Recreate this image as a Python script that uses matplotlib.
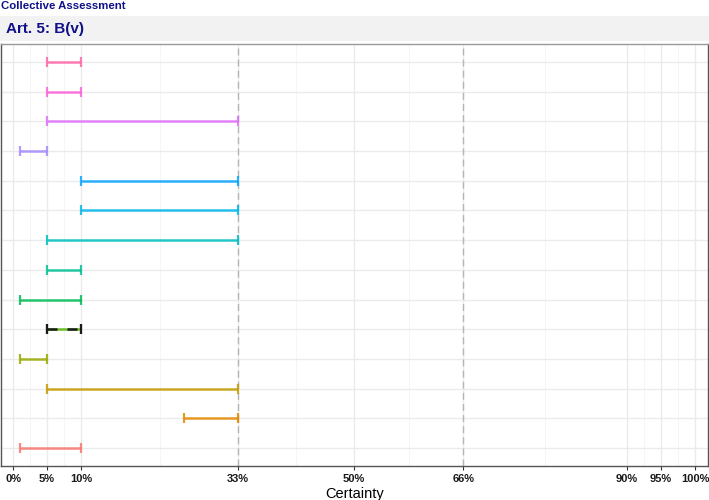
import matplotlib
matplotlib.use("Agg")
import matplotlib.pyplot as plt
from matplotlib.patches import Rectangle

plt.rcParams['font.family'] = ['Liberation Sans', 'DejaVu Sans']

# rows from bottom to top
lows = [1, 25, 5, 1, 5, 1, 5, 5, 10, 10, 1, 5, 5, 5]
highs = [10, 33, 33, 5, 10, 10, 10, 33, 33, 33, 5, 33, 10, 10]
colors = ['#F8766D', '#E38900', '#C49A00', '#99A800', '#53B400', '#00BC56',
          '#00C094', '#00BFC4', '#00B6EB', '#06A4FF', '#A58AFF', '#DF70F8',
          '#FB61D7', '#FF66A8']
collective_row = 5  # row drawn with the black dashed overlay

breaks = [0, 5, 10, 33, 50, 66, 90, 95, 100]
break_labels = ['0%', '5%', '10%', '33%', '50%', '66%', '90%', '95%', '100%']
ref_lines = [33, 66]

W, H = 709, 500
fig = plt.figure(figsize=(W / 100, H / 100), dpi=100)

# title and facet strip
fig.text(1 / W, 1 - 6 / H, 'Collective Assessment', color='#10108a',
         fontsize=8.2, fontweight='bold', ha='left', va='center')
fig.patches.append(Rectangle((0, 1 - 41 / H), 1, 25 / H, transform=fig.transFigure,
                             facecolor='#F2F2F2', edgecolor='none', zorder=0))
fig.text(6 / W, 1 - 28.5 / H, 'Art. 5: B(v)', color='#10108a',
         fontsize=11, fontweight='bold', ha='left', va='center')

ax = fig.add_axes([1 / W, 34 / H, 707 / W, 422 / H])

ypos = list(range(1, len(lows) + 1))

# grid
minor = [(breaks[i] + breaks[i + 1]) / 2 for i in range(len(breaks) - 1)]
for m in minor:
    ax.axvline(m, color='#F4F4F4', lw=0.6, zorder=0)
for b in breaks:
    ax.axvline(b, color='#EBEBEB', lw=1.0, zorder=0)
for y in ypos:
    ax.axhline(y, color='#EBEBEB', lw=1.0, zorder=0)
for r in ref_lines:
    ax.axvline(r, color='#B5B5B5', lw=1.0, ls=(0, (5, 3)), zorder=1)

for y, lo, hi, c in zip(ypos, lows, highs, colors):
    mid = (lo + hi) / 2
    ax.errorbar(mid, y, xerr=[[mid - lo], [hi - mid]], fmt='none', ecolor=c,
                elinewidth=1.8, capsize=3.5, capthick=1.6, alpha=0.85, zorder=3)

# collective assessment overlay
i = collective_row - 1
mid = (lows[i] + highs[i]) / 2
eb = ax.errorbar(mid, collective_row, xerr=[[mid - lows[i]], [highs[i] - mid]],
                 fmt='none', ecolor='#1a1a1a', elinewidth=1.8, capsize=3.5,
                 capthick=1.6, zorder=4)
eb[2][0].set_linestyle((0, (4, 4)))

ax.set_xlim(-1.76, 101.9)
ax.set_ylim(0.4, 14.6)
ax.set_xticks(breaks)
ax.set_xticklabels(break_labels, fontsize=8, fontweight='bold', color='#1a1a1a')
ax.set_yticks([])
ax.tick_params(axis='x', length=3, width=0.8, color='#333333', pad=3)
ax.set_xlabel('Certainty', fontsize=10.5, labelpad=2)

for side in ['left', 'bottom', 'right']:
    ax.spines[side].set_color('#555555')
    ax.spines[side].set_linewidth(1.0)
ax.spines['top'].set_color('#999999')
ax.spines['top'].set_linewidth(1.0)

fig.savefig('out.png', dpi=100)
